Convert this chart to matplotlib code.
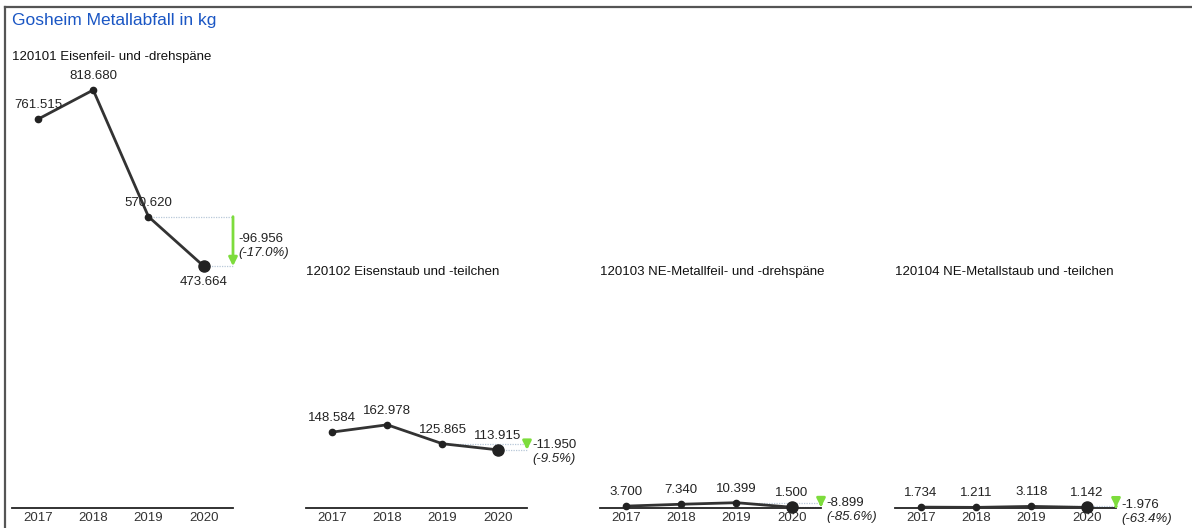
import matplotlib.pyplot as plt
from matplotlib.lines import Line2D

# Metal waste in kg per waste code, 2017-2020
years = ["2017", "2018", "2019", "2020"]
codes = [
    "120101 Eisenfeil- und -drehspäne",
    "120102 Eisenstaub und -teilchen",
    "120103 NE-Metallfeil- und -drehspäne",
    "120104 NE-Metallstaub und -teilchen",
]
eisenfeil = [761515, 818680, 570620, 473664]
eisenstaub = [148584, 162978, 125865, 113915]
ne_feil = [3700, 7340, 10399, 1500]
ne_staub = [1734, 1211, 3118, 1142]
series = [eisenfeil, eisenstaub, ne_feil, ne_staub]

W, H = 1192, 528
fig = plt.figure(figsize=(W / 100, H / 100), dpi=100)
plt.rcParams["font.family"] = ["Liberation Sans", "DejaVu Sans"]

# frame on the left and top
fig.add_artist(Line2D([5 / W, 5 / W], [0, 1 - 7 / H], color="#555555", lw=1.6))
fig.add_artist(Line2D([5 / W, 1], [1 - 7 / H, 1 - 7 / H], color="#555555", lw=1.6))

fig.text(12 / W, 1 - 21 / H, "Gosheim Metallabfall in kg", color="#1a56c4",
         fontsize=12.5, va="center", ha="left")


def fmt(v):
    return f"{v:,}".replace(",", ".")


# shared y scale for all four panels
px_per_unit = 1 / 1958.6
bottom_px = 508
top_px = 60
ymax = (bottom_px - top_px) / px_per_unit
lefts = [12, 306, 600, 895]
panel_w = 221
title_y = [57, 272, 272, 272]
xmin, xmax = -0.47, 3.53
x = list(range(len(years)))

for i, vals in enumerate(series):
    ax = fig.add_axes([lefts[i] / W, 1 - bottom_px / H, panel_w / W,
                       (bottom_px - top_px) / H])
    ax.set_xlim(xmin, xmax)
    ax.set_ylim(0, ymax)
    ax.patch.set_visible(False)
    for s in ["top", "right", "left"]:
        ax.spines[s].set_visible(False)
    ax.spines["bottom"].set_linewidth(1.3)
    ax.spines["bottom"].set_color("#222222")
    ax.set_yticks([])
    ax.set_xticks(x)
    ax.set_xticklabels(years, fontsize=9.5, color="#333333")
    ax.tick_params(axis="x", length=0, pad=3)

    ax.plot(x, vals, color="#333333", lw=2.0, clip_on=False, zorder=3)
    ax.plot(x[:-1], vals[:-1], "o", color="#222222", ms=4.5, clip_on=False, zorder=4)
    ax.plot(x[-1], vals[-1], "o", color="#222222", ms=8, clip_on=False, zorder=4)

    for j, v in enumerate(vals):
        below = (i == 0 and j == len(vals) - 1)
        ax.annotate(fmt(v), (x[j], v), xytext=(0, -16 if below else 14),
                    textcoords="offset pixels",
                    ha="center", va="center", fontsize=9.5, color="#222222",
                    annotation_clip=False)

    # change 2019 -> 2020
    prev, last = vals[-2], vals[-1]
    diff = last - prev
    pct = diff / prev * 100
    ax.plot([x[-2], xmax], [prev, prev], ls=(0, (1, 1)), color="#b8c8d8",
            lw=0.9, clip_on=False, zorder=2)
    ax.plot([x[-1], xmax], [last, last], ls=(0, (1, 1)), color="#b8c8d8",
            lw=0.9, clip_on=False, zorder=2)
    ax.annotate("", xy=(xmax, last), xytext=(xmax, prev),
                arrowprops=dict(arrowstyle="-|>,head_length=0.5,head_width=0.25",
                                color="#7ddc3c", lw=2, shrinkA=0, shrinkB=0),
                annotation_clip=False)
    mid = (prev + last) / 2
    ax.annotate(fmt(diff), (xmax, mid), xytext=(5, 2), textcoords="offset pixels",
                ha="left", va="center", fontsize=9.5, color="#222222",
                annotation_clip=False)
    ax.annotate(f"({pct:.1f}%)", (xmax, mid), xytext=(5, -12), textcoords="offset pixels",
                ha="left", va="center", fontsize=9.5, style="italic", color="#222222",
                annotation_clip=False)

    fig.text(lefts[i] / W, 1 - title_y[i] / H, codes[i], fontsize=9.5,
             ha="left", va="center", color="#111111")

fig.savefig("out.png", dpi=100, facecolor="white")
